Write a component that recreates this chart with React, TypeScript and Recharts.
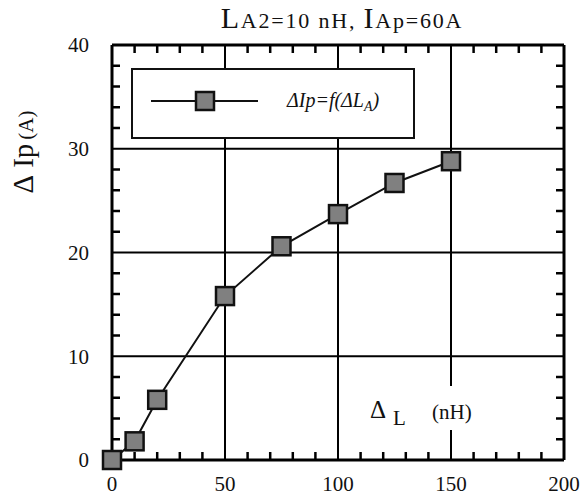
import { ComposedChart, Line, Scatter, XAxis, YAxis, CartesianGrid, Label } from 'recharts'

// ΔL (nH) -> ΔIp (A)
const deltaL = [0, 10, 20, 50, 75, 100, 125, 150]
const deltaIp = [0, 1.8, 5.8, 15.8, 20.6, 23.7, 26.7, 28.8]

const xTicks = [0, 50, 100, 150, 200]
const yTicks = [0, 10, 20, 30, 40]
const xMinorTicks = [10, 20, 30, 40, 60, 70, 80, 90, 110, 120, 130, 140, 160, 170, 180, 190]
const yMinorTicks = [2, 4, 6, 8, 12, 14, 16, 18, 22, 24, 26, 28, 32, 34, 36, 38]

const data = deltaL.map((x, i) => ({ x, y: deltaIp[i] }))

// anchor points of the inward minor ticks on the four sides of the frame
const bottomTicks = xMinorTicks.map(x => ({ x, y: 0 }))
const topTicks = xMinorTicks.map(x => ({ x, y: 40 }))
const leftTicks = yMinorTicks.map(y => ({ x: 0, y }))
const rightTicks = yMinorTicks.map(y => ({ x: 200, y }))

const FONT = 'Liberation Serif, Times New Roman, serif'
const MINOR = 8

const tickShape = (dx: number, dy: number) => (p: any) => (
  <line x1={p.cx} y1={p.cy} x2={p.cx + dx} y2={p.cy + dy} stroke="#000" strokeWidth={2.5} />
)

function SquareDot(props: any) {
  const { cx, cy, index } = props
  if (cx == null || cy == null) return null
  return (
    <rect key={index} x={cx - 9} y={cy - 9} width={18} height={18}
      fill="#808080" stroke="#111" strokeWidth={2.5} />
  )
}

function YTitle() {
  return (
    <text transform="translate(33,152) rotate(-90)" textAnchor="middle"
      style={{ fontFamily: FONT }} fill="#111">
      <tspan fontSize={29}>Δ</tspan>
      <tspan fontSize={29} dx={7}>Ip</tspan>
      <tspan fontSize={21} dx={4}>(A)</tspan>
    </text>
  )
}

export default function App() {
  return (
    <div style={{ position: 'absolute', left: 0, top: 0, width: 581, height: 504, background: '#fff', fontFamily: FONT }}>
      <ComposedChart width={581} height={504} data={data}
        margin={{ top: 45, right: 17, bottom: 0, left: 0 }}>
        <CartesianGrid stroke="#000" strokeWidth={2} />
        <CartesianGrid stroke="#000" strokeWidth={3}
          verticalValues={[200]} horizontalValues={[40]} />

        <XAxis dataKey="x" type="number" domain={[0, 200]} ticks={xTicks}
          height={44} stroke="#000" axisLine={{ strokeWidth: 3 }} tickLine={false}
          tickSize={0} tickMargin={16}
          tick={{ fontSize: 21, fontFamily: FONT, fill: '#111' }} />
        <YAxis type="number" domain={[0, 40]} ticks={yTicks} width={112}
          stroke="#000" axisLine={{ strokeWidth: 3 }} tickLine={false}
          tickSize={0} tickMargin={23}
          tick={{ fontSize: 21, fontFamily: FONT, fill: '#111' }}>
          <Label content={<YTitle />} />
        </YAxis>

        <Scatter data={bottomTicks} dataKey="y" shape={tickShape(0, -MINOR)} isAnimationActive={false} />
        <Scatter data={topTicks} dataKey="y" shape={tickShape(0, MINOR)} isAnimationActive={false} />
        <Scatter data={leftTicks} dataKey="y" shape={tickShape(MINOR, 0)} isAnimationActive={false} />
        <Scatter data={rightTicks} dataKey="y" shape={tickShape(-MINOR, 0)} isAnimationActive={false} />

        <Line dataKey="y" stroke="#111" strokeWidth={2} dot={<SquareDot />}
          activeDot={false} isAnimationActive={false} />
      </ComposedChart>

      {/* title */}
      <svg width={581} height={40} style={{ position: 'absolute', left: 0, top: 0 }}>
        <text x={342} y={28} textAnchor="middle" style={{ fontFamily: FONT, letterSpacing: 1.8 }} fill="#111">
          <tspan fontSize={30}>L</tspan>
          <tspan fontSize={22}>A2=10 nH, </tspan>
          <tspan fontSize={30}>I</tspan>
          <tspan fontSize={22}>Ap=60A</tspan>
        </text>
      </svg>

      {/* legend box */}
      <div style={{
        position: 'absolute', left: 131, top: 68, width: 284, height: 71,
        boxSizing: 'border-box', border: '2px solid #111', background: '#fff',
      }}>
        <svg width={280} height={67} style={{ position: 'absolute', left: 0, top: 0 }}>
          <line x1={18} y1={31} x2={125} y2={31} stroke="#111" strokeWidth={2} />
          <rect x={63} y={22} width={18} height={18} fill="#808080" stroke="#111" strokeWidth={2.5} />
          <text x={154} y={37} style={{ fontFamily: FONT }} fontStyle="italic" fontSize={20} fill="#111">
            ΔIp=f(ΔL<tspan fontSize={14} dy={4}>A</tspan><tspan dy={-4}>)</tspan>
          </text>
        </svg>
      </div>

      {/* x axis title inside the plot */}
      <div style={{ position: 'absolute', left: 366, top: 386, width: 120, height: 44, background: '#fff' }}>
        <svg width={120} height={44}>
          <text style={{ fontFamily: FONT }} fill="#111">
            <tspan x={4} y={32} fontSize={25}>Δ</tspan>
            <tspan x={27} y={39} fontSize={21}>L</tspan>
            <tspan x={66} y={33} fontSize={21}>(nH)</tspan>
          </text>
        </svg>
      </div>
    </div>
  )
}
